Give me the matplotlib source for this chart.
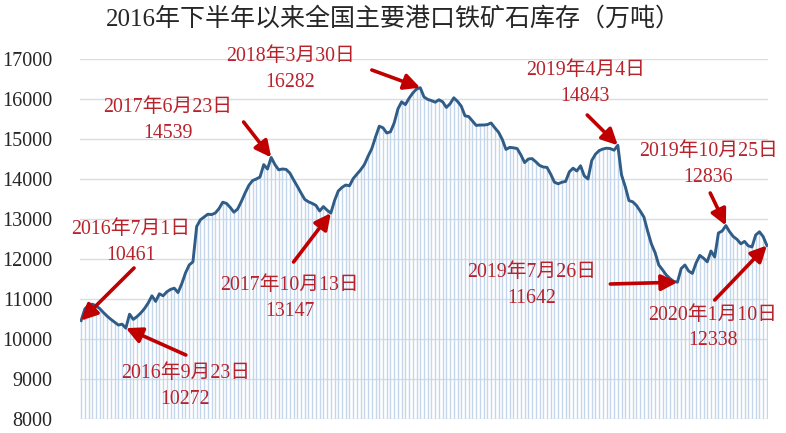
import matplotlib
matplotlib.use('Agg')
from matplotlib import pyplot as plt

plt.rcParams['font.family'] = ['Liberation Serif', 'Noto Sans CJK SC']

# 周度库存，万吨（2016-07-01 ... 2020-01-10）
stock = [
	10461, 10750, 10850, 10870, 10830, 10760, 10660, 10570, 10490, 10420,
	10350, 10370, 10272, 10620, 10490, 10560, 10650, 10760, 10900, 11080,
	10940, 11130, 11080, 11180, 11240, 11270, 11160, 11380, 11650, 11850,
	11930, 12810, 12980, 13050, 13120, 13110, 13150, 13260, 13420, 13390,
	13290, 13170, 13250, 13440, 13650, 13840, 13960, 14000, 14050, 14360,
	14250, 14539, 14360, 14230, 14250, 14240, 14150, 13980, 13820, 13650,
	13490, 13430, 13390, 13340, 13200, 13310, 13220, 13147, 13460, 13700,
	13790, 13850, 13830, 14010, 14120, 14230, 14360, 14570, 14760, 15050,
	15320, 15280, 15150, 15180, 15400, 15750, 15930, 15860, 16020, 16150,
	16250, 16282, 16050, 15990, 15960, 15920, 15980, 15930, 15790, 15880,
	16030, 15940, 15820, 15580, 15560, 15450, 15340, 15350, 15350, 15360,
	15400, 15280, 15170, 14990, 14740, 14790, 14780, 14760, 14600, 14410,
	14500, 14510, 14430, 14340, 14300, 14290, 14120, 13920, 13880, 13920,
	13940, 14180, 14270, 14200, 14330, 14080, 14000, 14460, 14620, 14710,
	14750, 14770, 14760, 14720, 14843, 14100, 13810, 13460, 13430, 13340,
	13200, 13050, 12700, 12380, 12160, 11850, 11730, 11600, 11510, 11440,
	11420, 11760, 11850, 11700, 11640, 11900, 12090, 12020, 11930, 12200,
	12050, 12650, 12700, 12836, 12680, 12560, 12490, 12380, 12440, 12330,
	12300, 12600, 12680, 12560, 12338,
]
weeks = list(range(len(stock)))

# 标注：文字, 文字位置(周, 值), 箭头起点(周, 值), 箭头指向的周
notes = [
	('2016年7月1日\n10461', (13.4, 12412), (14.2, 11775), 0),
	('2016年9月23日\n10272', (28.0, 8812), (28.1, 9600), 12),
	('2017年6月23日\n14539', (23.3, 15462), (43.6, 15425), 51),
	('2017年10月13日\n13147', (56.0, 11012), (57.0, 11925), 67),
	('2018年3月30日\n16282', (56.1, 16737), (78.0, 16725), 91),
	('2019年4月4日\n14843', (135.3, 16387), (135.8, 15600), 144),
	('2019年10月25日\n12836', (168.3, 14362), (168.8, 13650), 173),
	('2019年7月26日\n11642', (121.0, 11337), (142.0, 11375), 160),
	('2020年1月10日\n12338', (169.5, 10275), (170.0, 10975), 184),
]

fig = plt.figure(figsize=(7.86, 4.33), dpi=100)
ax = fig.add_axes([80 / 786, 1 - 419 / 433, 688 / 786, 360 / 433])

# 细竖线填充 + 折线
ax.vlines(weeks, 8000, stock, color='#c3d6ec', lw=1.0, zorder=1)
ax.plot(weeks, stock, color='#2f5d88', lw=2.1, zorder=3)

ax.set_xlim(-0.3, 184.3)
ax.set_ylim(8000, 17000)
ax.set_yticks(range(8000, 17001, 1000))
ax.yaxis.grid(True, color='#d9dde3', lw=1.0, zorder=0)
ax.set_axisbelow(True)
ax.set_xticks([])
ax.tick_params(axis='y', length=0, labelsize=14.5, labelcolor='#262626', pad=20)
for s in ax.spines.values():
	s.set_visible(False)

for label, txt_pos, tail, head in notes:
	ax.text(txt_pos[0], txt_pos[1], label, ha='center', va='center', fontsize=14.3,
			color='#b8232b', linespacing=1.45, zorder=5)
	ax.annotate('', xy=(head, stock[head]), xytext=tail,
				arrowprops=dict(arrowstyle='-|>', color='#c00000', lw=2.6,
								mutation_scale=24, shrinkA=0, shrinkB=0), zorder=6)

fig.text(393 / 786, 1 - 19 / 433, '2016年下半年以来全国主要港口铁矿石库存（万吨）',
		 ha='center', va='center', fontsize=18, color='#262626')

plt.savefig('out.png', dpi=100)
